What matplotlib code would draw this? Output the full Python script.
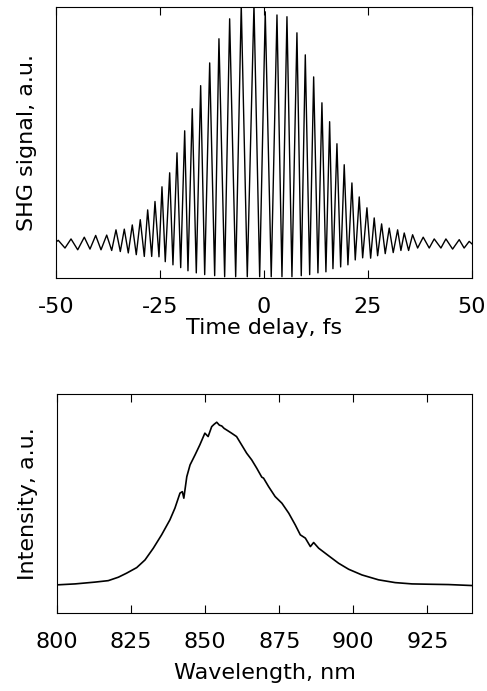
import matplotlib
matplotlib.use("Agg")
from matplotlib import pyplot as plt

plt.rcParams["font.family"] = ["DejaVu Sans"]
plt.rcParams["font.size"] = 16
plt.rcParams["axes.unicode_minus"] = False

# interferometric autocorrelation: fringe maxima / minima
delay_fs = [-49.83, -49.45, -47.84, -46.39, -44.78, -43.20, -41.83, -40.46, -39.18, -37.81,
            -36.61, -35.58, -34.54, -33.58, -32.62, -31.66, -30.70, -29.74, -28.77, -27.96,
            -26.99, -26.20, -25.24, -24.52, -23.73, -22.67, -21.88, -20.91, -20.02, -19.06,
            -18.27, -17.24, -16.27, -15.22, -14.25, -13.05, -11.85, -10.82, -9.45, -8.25,
            -6.80, -5.46, -4.01, -2.40, -1.03, 0.31, 1.75, 3.13, 4.33, 5.53,
            6.73, 7.93, 8.97, 9.94, 10.99, 11.95, 12.98, 13.94, 14.90, 15.79,
            16.59, 17.55, 18.44, 19.30, 20.19, 21.15, 21.95, 22.91, 23.73, 24.76,
            25.65, 26.51, 27.33, 28.29, 29.16, 30.12, 31.08, 32.14, 32.93, 33.73,
            34.78, 35.74, 36.95, 38.29, 39.74, 40.94, 42.55, 43.75, 45.36, 46.95,
            48.13, 49.35, 50.0]
shg_signal = [1.04, 1.07, 0.85, 1.11, 0.80, 1.16, 0.82, 1.21, 0.80, 1.22,
              0.78, 1.37, 0.75, 1.39, 0.71, 1.51, 0.66, 1.66, 0.61, 1.94,
              0.61, 2.18, 0.60, 2.60, 0.46, 3.00, 0.37, 3.57, 0.29, 4.20,
              0.20, 4.83, 0.14, 5.49, 0.09, 6.14, 0.06, 6.83, 0.03, 7.40,
              0.03, 7.80, 0.03, 7.80, 0.03, 7.60, 0.03, 7.51, 0.03, 7.46,
              0.03, 7.00, 0.06, 6.37, 0.09, 5.74, 0.14, 5.00, 0.17, 4.46,
              0.26, 3.83, 0.31, 3.23, 0.37, 2.71, 0.51, 2.31, 0.57, 2.00,
              0.56, 1.71, 0.63, 1.54, 0.69, 1.42, 0.72, 1.37, 0.78, 1.28,
              0.78, 1.23, 0.85, 1.16, 0.85, 1.11, 0.85, 1.11, 0.82, 1.09,
              0.85, 1.04, 0.97]
delay_ticks = [-50, -25, 0, 25, 50]

# spectrum
wavelength_nm = [799.9, 806.1, 812.8, 817.3, 820.7, 823.5, 826.9, 829.7, 832.5, 835.3,
                 838.1, 839.8, 841.5, 842.3, 842.8, 843.8, 844.9, 846.6, 848.2, 849.9,
                 851.0, 852.2, 853.0, 853.9, 854.8, 855.6, 856.4, 857.2, 858.9, 860.6,
                 862.3, 864.0, 865.7, 867.4, 869.1, 869.7, 871.4, 873.6, 875.9, 878.2,
                 880.4, 882.1, 883.8, 885.5, 886.6, 888.3, 891.7, 895.0, 898.4, 902.9,
                 908.5, 914.1, 919.8, 925.4, 932.1, 940.0]
intensity = [0.000, 0.006, 0.017, 0.026, 0.047, 0.072, 0.106, 0.153, 0.225, 0.307,
             0.399, 0.471, 0.563, 0.572, 0.532, 0.664, 0.736, 0.798, 0.859, 0.931,
             0.910, 0.971, 0.985, 0.998, 0.980, 0.975, 0.960, 0.951, 0.931, 0.910,
             0.859, 0.808, 0.767, 0.716, 0.661, 0.655, 0.603, 0.542, 0.501, 0.440,
             0.368, 0.307, 0.287, 0.235, 0.260, 0.225, 0.178, 0.133, 0.096, 0.061,
             0.031, 0.014, 0.006, 0.004, 0.002, -0.004]
wl_ticks = [800, 825, 850, 875, 900, 925]

fig = plt.figure(figsize=(4.87, 6.91), dpi=100)
ax1 = fig.add_axes([0.115, 0.598, 0.854, 0.392])
ax2 = fig.add_axes([0.117, 0.113, 0.852, 0.317])

ax1.plot(delay_fs, shg_signal, color="black", linewidth=1.0)
ax1.set_xlim(-50, 50)
ax1.set_ylim(0, 7.74)
ax1.set_xticks(delay_ticks)
ax1.set_xlabel("Time delay, fs", labelpad=0.2)
ax1.set_ylabel("SHG signal, a.u.", labelpad=14)

ax2.plot(wavelength_nm, intensity, color="black", linewidth=1.2)
ax2.set_xlim(800, 940)
ax2.set_ylim(-0.172, 1.172)
ax2.set_xticks(wl_ticks)
ax2.set_xlabel("Wavelength, nm", labelpad=7.5)
ax2.set_ylabel("Intensity, a.u.", labelpad=14)

for ax in (ax1, ax2):
    ax.set_yticks([])
    ax.tick_params(axis="x", direction="in", top=True, length=5.5, width=0.8, pad=14)
    for sp in ax.spines.values():
        sp.set_linewidth(0.8)

fig.savefig("out.png", dpi=100)
